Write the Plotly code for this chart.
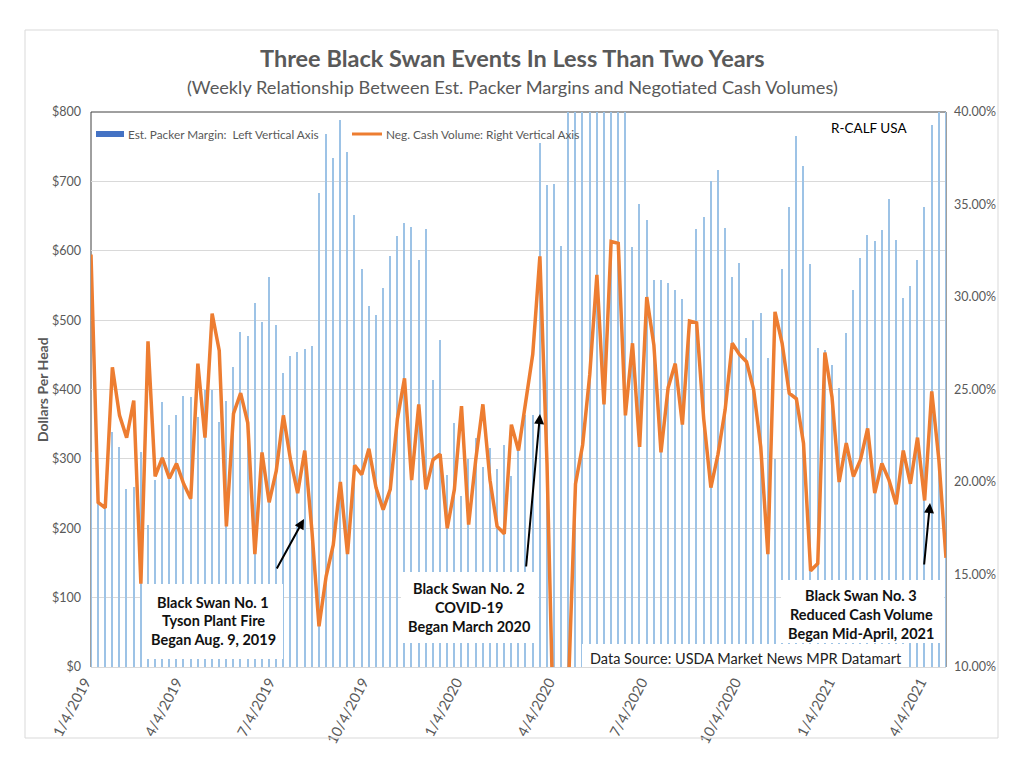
import plotly.graph_objects as go
import pandas as pd

# ---------------- data ----------------
weeks = pd.date_range("2019-01-04", periods=121, freq="7D")

packer_margin = [
    310, 240, 230, 339, 317, 256, 260, 310, 205, 270,
    382, 349, 363, 390, 389, 361, 399, 400, 353, 383,
    433, 483, 477, 524, 498, 562, 493, 424, 448, 454,
    458, 462, 683, 768, 733, 788, 743, 651, 573, 520,
    507, 546, 592, 621, 640, 634, 586, 632, 414, 472,
    277, 351, 246, 300, 330, 288, 315, 285, 320, 275,
    320, 363, 363, 755, 695, 696, 607, 900, 950, 880,
    1000, 920, 980, 900, 1050, 870, 605, 667, 644, 558,
    558, 554, 544, 530, 490, 631, 648, 700, 717, 633,
    562, 582, 474, 500, 510, 445, 300, 573, 663, 765,
    722, 581, 460, 457, 435, 402, 481, 543, 589, 622,
    614, 630, 674, 615, 532, 549, 587, 663, 781, 850,
    900,
]

cash_volume_pct = [
    32.3, 18.9, 18.6, 26.2, 23.6, 22.4, 24.4, 14.5, 27.6, 20.3,
    21.3, 20.2, 21.0, 19.9, 19.1, 26.4, 22.4, 29.1, 27.1, 17.6,
    23.7, 24.8, 23.2, 16.1, 21.6, 18.9, 20.6, 23.6, 21.2, 19.4,
    21.7, 17.4, 12.2, 14.9, 16.6, 20.0, 16.1, 20.9, 20.4, 21.8,
    19.7, 18.5, 19.6, 23.4, 25.6, 20.1, 24.2, 19.6, 21.2, 21.5,
    17.5, 19.6, 24.1, 17.7, 21.2, 24.2, 20.1, 17.6, 17.2, 23.1,
    21.7, 24.4, 26.9, 32.2, 21.0, 5.0, 4.0, 8.8, 19.9, 22.0,
    25.8, 31.2, 24.2, 33.0, 32.9, 23.6, 27.5, 21.9, 30.0, 27.4,
    21.6, 25.1, 26.4, 23.1, 28.7, 28.6, 23.4, 19.7, 21.5, 23.9,
    27.5, 26.9, 26.5, 25.0, 21.9, 16.1, 29.2, 27.5, 24.8, 24.5,
    22.1, 15.2, 15.6, 27.0, 24.6, 20.0, 22.1, 20.3, 21.2, 22.9,
    19.4, 21.0, 20.1, 18.8, 21.7, 19.9, 22.4, 19.0, 24.9, 21.2,
    15.9,
]

x_tick_dates = ["2019-01-04", "2019-04-04", "2019-07-04", "2019-10-04",
                "2020-01-04", "2020-04-04", "2020-07-04", "2020-10-04",
                "2021-01-04", "2021-04-04"]
x_tick_labels = ["1/4/2019", "4/4/2019", "7/4/2019", "10/4/2019",
                 "1/4/2020", "4/4/2020", "7/4/2020", "10/4/2020",
                 "1/4/2021", "4/4/2021"]

left_tick_vals = [0, 100, 200, 300, 400, 500, 600, 700, 800]
left_tick_labels = ["$0", "$100", "$200", "$300", "$400", "$500", "$600", "$700", "$800"]
right_tick_vals = [0.10, 0.15, 0.20, 0.25, 0.30, 0.35, 0.40]
right_tick_labels = ["10.00%", "15.00%", "20.00%", "25.00%", "30.00%", "35.00%", "40.00%"]

title_text = "Three Black Swan Events In Less Than Two Years"
subtitle_text = "(Weekly Relationship Between Est. Packer Margins and Negotiated Cash Volumes)"
bar_name = "Est. Packer Margin:  Left Vertical Axis"
line_name = "Neg. Cash Volume: Right Vertical Axis"

# ---------------- layout helpers ----------------
# the page body adds an 8px margin, so the figure is drawn 8px in from the corner
OFF = 8
W, H = 1024 - OFF, 768 - OFF
# plot area in screen pixels
L, R, T, B = 91, 946, 112, 667
FONT = "Lato, 'Open Sans', 'DejaVu Sans', sans-serif"
GRAY = "#595959"


def px(x):
    return (x - L) / (R - L)


def py(y):
    return (B - y) / (B - T)


fig = go.Figure()

fig.add_trace(go.Bar(
    x=weeks, y=packer_margin, name=bar_name,
    width=1.4 * 86400000,
    marker=dict(color="#9dc3e6", line=dict(width=0)),
    showlegend=False,
))
fig.add_trace(go.Scatter(
    x=weeks, y=[v / 100 for v in cash_volume_pct], name=line_name,
    yaxis="y2", mode="lines",
    line=dict(color="#ED7D31", width=3.5),
    showlegend=False,
))

shapes = []
# plot-area border (top, left, right) below the bars
for x0, y0, x1, y1 in [(L, T, R, T), (L, T, L, B), (R, T, R, B)]:
    shapes.append(dict(type="line", xref="paper", yref="paper",
                       x0=px(x0), y0=py(y0), x1=px(x1), y1=py(y1),
                       line=dict(color="#404040", width=1), layer="between"))
# outer chart frame
shapes.append(dict(type="rect", xref="paper", yref="paper",
                   x0=px(25), y0=py(738), x1=px(998), y1=py(30),
                   line=dict(color="#d9d9d9", width=1), fillcolor="rgba(0,0,0,0)",
                   layer="above"))
# white text boxes
for x0, y0, x1, y1 in [(142, 584, 283, 659), (401, 572, 538, 643),
                       (781, 580, 944, 643), (582, 644, 907, 667)]:
    shapes.append(dict(type="rect", xref="paper", yref="paper",
                       x0=px(x0), y0=py(y1), x1=px(x1), y1=py(y0),
                       line=dict(width=0), fillcolor="white", layer="above"))
# legend swatches
shapes.append(dict(type="rect", xref="paper", yref="paper",
                   x0=px(96), y0=py(137), x1=px(124), y1=py(131),
                   line=dict(width=0), fillcolor="#4472C4", layer="above"))
shapes.append(dict(type="line", xref="paper", yref="paper",
                   x0=px(352), y0=py(134), x1=px(382), y1=py(134),
                   line=dict(color="#ED7D31", width=3), layer="above"))

annotations = []


def text(x, y, s, size, color=GRAY, bold=False, xanchor="center", angle=0):
    annotations.append(dict(
        x=px(x), y=py(y), xref="paper", yref="paper", text=s, showarrow=False,
        xanchor=xanchor, yanchor="middle", textangle=angle,
        font=dict(family=FONT, size=size, color=color,
                  weight="bold" if bold else "normal"),
    ))


text(512, 58, title_text, 23.5, bold=True)
text(512, 87, subtitle_text, 18.2)
text(42, 390, "Dollars Per Head", 14, bold=True, angle=-90)
text(126, 134, bar_name, 11.8, xanchor="left")
text(384, 134, line_name, 11.8, xanchor="left")
text(869, 128, "R-CALF USA", 13.5, color="#000000")

BOX = "#111111"
text(213, 602, "Black Swan No. 1", 14.5, color=BOX, bold=True)
text(213, 620, "Tyson Plant Fire", 14.5, color=BOX, bold=True)
text(213, 639, "Began Aug. 9, 2019", 14.5, color=BOX, bold=True)

text(469, 588, "Black Swan No. 2", 14.5, color=BOX, bold=True)
text(469, 607, "COVID-19", 14.5, color=BOX, bold=True)
text(469, 626, "Began March 2020", 14.5, color=BOX, bold=True)

text(861, 595, "Black Swan No. 3", 14.5, color=BOX, bold=True)
text(861, 614, "Reduced Cash Volume", 14.5, color=BOX, bold=True)
text(861, 633, "Began Mid-April, 2021", 14.5, color=BOX, bold=True)

text(746, 658, "Data Source: USDA Market News MPR Datamart", 14.5, color="#222222")

# arrows (head, tail in screen pixels)
for (hx, hy), (tx, ty) in [((304, 519), (276, 570)),
                           ((540, 414), (526, 568)),
                           ((930, 503), (924, 566))]:
    annotations.append(dict(
        x=px(hx), y=py(hy), xref="paper", yref="paper", text="",
        showarrow=True, ax=tx - hx, ay=ty - hy, axref="pixel", ayref="pixel",
        arrowhead=2, arrowsize=1, arrowwidth=2, arrowcolor="#000000",
        standoff=0,
    ))

fig.update_layout(
    width=W, height=H, autosize=False,
    margin=dict(l=L - OFF, r=W - (R - OFF), t=T - OFF, b=H - (B - OFF), pad=0),
    paper_bgcolor="white", plot_bgcolor="white",
    font=dict(family=FONT, color=GRAY),
    bargap=0,
    xaxis=dict(
        type="date", range=[weeks[0], weeks[-1]],
        tickvals=x_tick_dates, ticktext=x_tick_labels, tickangle=-62,
        showgrid=False, zeroline=False, ticks="",
        showline=True, linecolor="#d9d9d9", linewidth=1,
        tickfont=dict(size=14.5, color=GRAY), layer="below traces",
        ticklabelshift=-6,
    ),
    yaxis=dict(
        range=[0, 800], tickvals=left_tick_vals, ticktext=left_tick_labels,
        showgrid=True, gridcolor="#d9d9d9", gridwidth=1, zeroline=False,
        ticks="", tickfont=dict(size=12.5, color=GRAY), layer="below traces",
        ticklabelstandoff=9,
    ),
    yaxis2=dict(
        range=[0.10, 0.40], tickvals=right_tick_vals, ticktext=right_tick_labels,
        overlaying="y", side="right", showgrid=False, zeroline=False,
        ticks="", tickfont=dict(size=12.5, color=GRAY),
        ticklabelstandoff=7,
    ),
    shapes=shapes,
    annotations=annotations,
    showlegend=False,
)

fig.write_html("out.html")
